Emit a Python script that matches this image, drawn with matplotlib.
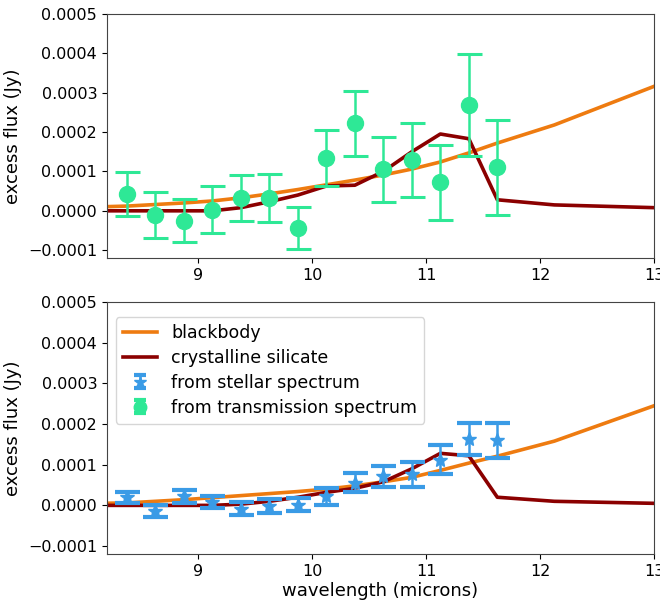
import numpy as np
import matplotlib
matplotlib.use("Agg")
import matplotlib.pyplot as plt
from matplotlib.legend_handler import HandlerErrorbar

# wavelengths of data points (microns)
wl = [8.375, 8.625, 8.875, 9.125, 9.375, 9.625, 9.875, 10.125, 10.375,
      10.625, 10.875, 11.125, 11.375, 11.625]
# model grid
wl_model = [8.125] + wl + [12.125, 13.0]

# top panel: transmission spectrum excess
trans_val = [0.000042, -0.000010, -0.000025, 0.000003, 0.000032, 0.000033, -0.000044,
             0.000133, 0.000222, 0.000105, 0.000129, 0.000072, 0.000268, 0.000110]
trans_err = [0.000056, 0.000058, 0.000055, 0.000060, 0.000059, 0.000061, 0.000053,
             0.000071, 0.000082, 0.000082, 0.000093, 0.000095, 0.000130, 0.000120]
bb_top = [0.000010, 0.000012, 0.000016, 0.000020, 0.000025, 0.000033, 0.000043, 0.000054,
          0.000066, 0.000078, 0.000091, 0.000106, 0.000124, 0.000147, 0.000172,
          0.000218, 0.000316]
sil_top = [0.0, 0.0, 0.0, 0.0, 0.0, 0.000008, 0.000023, 0.000040, 0.000063, 0.000065,
           0.000100, 0.000150, 0.000195, 0.000183, 0.000028, 0.000015, 0.000008]

# bottom panel: stellar spectrum excess
star_val = [0.000020, -0.000014, 0.000022, 0.000008, -0.000008, -0.000002, 0.000002,
            0.000022, 0.000056, 0.000072, 0.000076, 0.000112, 0.000163, 0.000160]
star_err = [0.000014, 0.000015, 0.000016, 0.000015, 0.000016, 0.000017, 0.000017,
            0.000020, 0.000023, 0.000026, 0.000030, 0.000036, 0.000040, 0.000043]
bb_bot = [0.000005, 0.000006, 0.000010, 0.000014, 0.000019, 0.000024, 0.000029, 0.000034,
          0.000040, 0.000048, 0.000058, 0.000069, 0.000086, 0.000104, 0.000121,
          0.000158, 0.000245]
sil_bot = [0.0, 0.0, 0.0, 0.0, 0.0, 0.000003, 0.000010, 0.000020, 0.000032, 0.000042,
           0.000058, 0.000090, 0.000128, 0.000122, 0.000020, 0.000010, 0.000005]

xticks = [9, 10, 11, 12, 13]
yticks = [-0.0001, 0.0, 0.0001, 0.0002, 0.0003, 0.0004, 0.0005]

c_bb = "#ee7b10"
c_sil = "#8b0000"
c_tr = "#2ee896"
c_st = "#3a9be6"

fig = plt.figure(figsize=(6.6, 6.03), dpi=100)
ax1 = fig.add_axes([0.162, 0.572, 0.829, 0.405])
ax2 = fig.add_axes([0.162, 0.081, 0.829, 0.418])

for ax in (ax1, ax2):
    ax.set_xlim(8.2, 13)
    ax.set_ylim(-0.00012, 0.0005)
    ax.set_xticks(xticks)
    ax.set_yticks(yticks)
    ax.set_yticklabels(["\u22120.0001", "0.0000", "0.0001", "0.0002", "0.0003", "0.0004", "0.0005"])
    ax.tick_params(labelsize=11.5)
    ax.set_ylabel("excess flux (Jy)", fontsize=13)
    for s in ax.spines.values():
        s.set_color("#444444")

ax1.plot(wl_model, bb_top, color=c_bb, lw=2.6)
ax1.plot(wl_model, sil_top, color=c_sil, lw=2.6)
ax1.errorbar(wl, trans_val, yerr=trans_err, fmt="o", color=c_tr, ms=11.5,
             elinewidth=1.8, capsize=9, capthick=2.2)

l1, = ax2.plot(wl_model, bb_bot, color=c_bb, lw=2.6, label="blackbody")
l2, = ax2.plot(wl_model, sil_bot, color=c_sil, lw=2.6, label="crystalline silicate")
ax2.errorbar(wl, star_val, yerr=star_err, fmt="*", color=c_st, ms=10,
             elinewidth=1.8, capsize=9, capthick=3.0)

# legend proxies (compact errorbar glyphs as in the reference legend)
p_st = ax2.errorbar([np.nan], [np.nan], yerr=[np.nan], fmt="*", color=c_st, ms=9,
                    elinewidth=1.8, capsize=4, capthick=3.0, label="from stellar spectrum")
p_tr = ax2.errorbar([np.nan], [np.nan], yerr=[np.nan], fmt="o", color=c_tr, ms=9,
                    elinewidth=1.8, capsize=4, capthick=3.0, label="from transmission spectrum")
hm = {p_st: HandlerErrorbar(yerr_size=0.38), p_tr: HandlerErrorbar(yerr_size=0.38)}
ax2.legend(handles=[l1, l2, p_st, p_tr], handler_map=hm, loc="upper left", fontsize=12.5,
           handlelength=2.0, labelspacing=0.4, borderaxespad=0.5,
           bbox_to_anchor=(0.0, 0.975))
ax2.set_xlabel("wavelength (microns)", fontsize=13, labelpad=2)

fig.savefig("out.png", dpi=100)
